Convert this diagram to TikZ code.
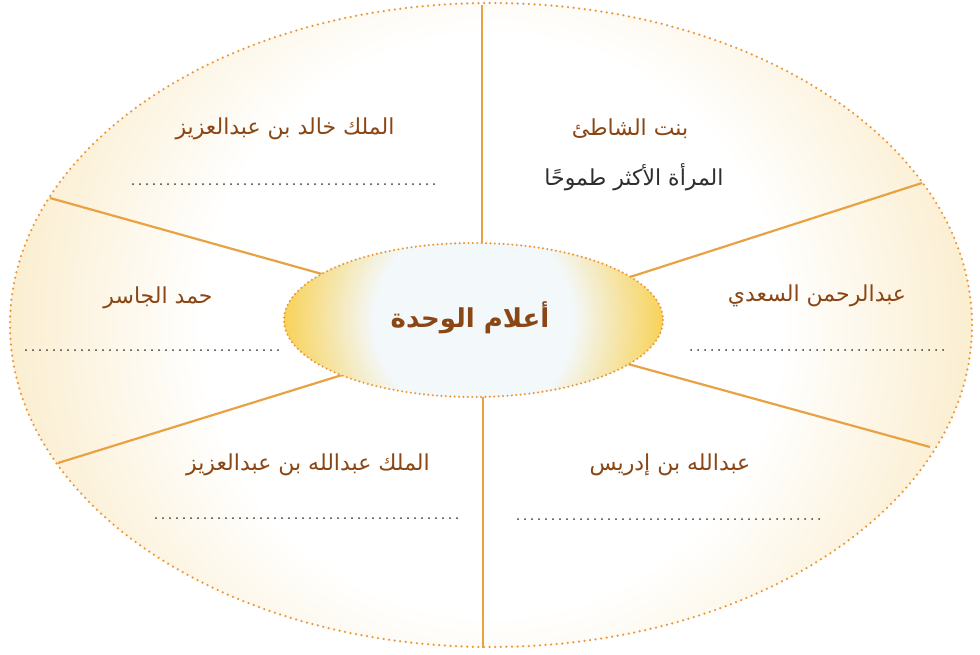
\documentclass[tikz,border=0pt]{standalone}
\usepackage{fontspec}
\usetikzlibrary{shapes.geometric}
\TeXXeTstate=1
\newfontfamily\arabicfont[Script=Arabic]{DejaVu Sans}
\definecolor{spoke}{HTML}{E9A243}
\definecolor{rim}{HTML}{EC9838}
\definecolor{cream}{HTML}{FBEED0}
\definecolor{gold}{HTML}{F8D257}
\definecolor{paleblue}{HTML}{F3F8FB}
\definecolor{brownt}{HTML}{8A4614}
\definecolor{darkt}{HTML}{2E2E2E}
\definecolor{dotgray}{HTML}{3A3A3A}
\pgfdeclareradialshading{bigglow}{\pgfpoint{0bp}{0bp}}{color(0bp)=(white); color(15bp)=(white); color(25bp)=(cream); color(50bp)=(cream)}
\pgfdeclareradialshading{innerglow}{\pgfpoint{0bp}{0bp}}{color(0bp)=(paleblue); color(13bp)=(paleblue); color(25bp)=(gold); color(50bp)=(gold)}
\tikzset{
  rimdots/.style={draw=rim, line width=2.5pt, line cap=round, dash pattern=on 0pt off 5.6pt},
  innerdots/.style={draw=rim, line width=2.3pt, line cap=round, dash pattern=on 0pt off 4.4pt},
  spokeline/.style={draw=spoke, line width=2.2pt},
  writeline/.style={draw=dotgray, line width=2pt, line cap=round, dash pattern=on 0pt off 7pt},
  lbl/.style={font=\arabicfont\fontsize{22}{25}\selectfont, text=brownt, inner sep=0pt},
  lbldark/.style={font=\arabicfont\fontsize{22}{25}\selectfont, text=darkt, inner sep=0pt},
  title/.style={font=\arabicfont\bfseries\fontsize{26}{30}\selectfont, text=brownt, inner sep=0pt}
}
\begin{document}
\begin{tikzpicture}[x=1pt,y=-1pt]
\useasboundingbox (0,0) rectangle (980,654);
\coordinate (outerc) at (491,325);
\coordinate (hubc) at (473.5,320);
% outer ellipse fill
\begin{scope}
  \clip (outerc) ellipse [x radius=481, y radius=322];
  \shade[shading=bigglow] (outerc) circle (482);
\end{scope}
% spoke end points
\coordinate (t1) at (482,5);   \coordinate (t2) at (482,245);
\coordinate (b1) at (483,395); \coordinate (b2) at (483,648);
\coordinate (ul1) at (50,198);  \coordinate (ul2) at (322,274);
\coordinate (ll1) at (58,463);  \coordinate (ll2) at (342,375);
\coordinate (ur1) at (922,183); \coordinate (ur2) at (630,277);
\coordinate (lr1) at (930,447); \coordinate (lr2) at (628,364);
\draw[spokeline] (t1) -- (t2);
\draw[spokeline] (b1) -- (b2);
\draw[spokeline] (ul1) -- (ul2);
\draw[spokeline] (ll1) -- (ll2);
\draw[spokeline] (ur1) -- (ur2);
\draw[spokeline] (lr1) -- (lr2);
\path[rimdots] (outerc) ellipse [x radius=481, y radius=322];
% inner ellipse
\begin{scope}
  \clip (hubc) ellipse [x radius=189.5, y radius=77];
  \shade[shading=innerglow] (hubc) circle (190);
\end{scope}
\path[innerdots] (hubc) ellipse [x radius=189.5, y radius=77];
\node[title] (ttl) at (470,318) {\beginR أعلام الوحدة\endR};
% labels
\node[lbl] (n1) at (285,129) {\beginR الملك خالد بن عبدالعزيز\endR};
\node[lbl] (n2) at (630,129) {\beginR بنت الشاطئ\endR};
\node[lbldark] (n2b) at (634,177) {\beginR المرأة الأكثر طموحًا\endR};
\node[lbl] (n3) at (158,298) {\beginR حمد الجاسر\endR};
\node[lbl] (n4) at (817,296) {\beginR عبدالرحمن السعدي\endR};
\node[lbl] (n5) at (308,465) {\beginR الملك عبدالله بن عبدالعزيز\endR};
\node[lbl] (n6) at (670,465) {\beginR عبدالله بن إدريس\endR};
% writing lines
\coordinate (w1a) at (133,184); \coordinate (w1b) at (440,184);
\coordinate (w3a) at (26,350);  \coordinate (w3b) at (283,350);
\coordinate (w4a) at (691,350); \coordinate (w4b) at (948,350);
\coordinate (w5a) at (156,518); \coordinate (w5b) at (463,518);
\coordinate (w6a) at (518,519); \coordinate (w6b) at (825,519);
\draw[writeline] (w1a) -- (w1b);
\draw[writeline] (w3a) -- (w3b);
\draw[writeline] (w4a) -- (w4b);
\draw[writeline] (w5a) -- (w5b);
\draw[writeline] (w6a) -- (w6b);
\end{tikzpicture}
\end{document}
